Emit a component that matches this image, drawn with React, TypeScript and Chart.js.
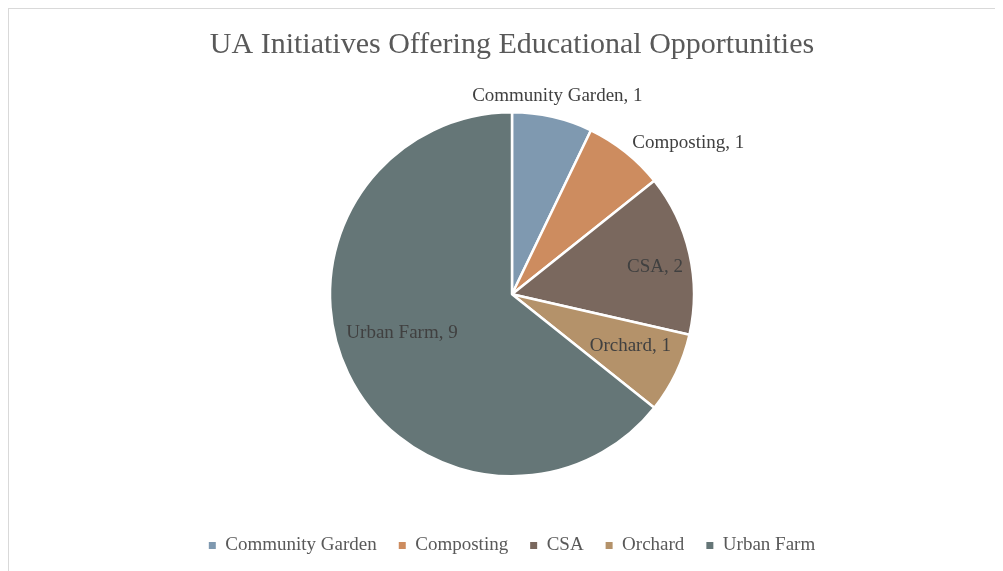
import React, { useEffect, useRef } from "react";
import { Chart, registerables } from "chart.js";

Chart.register(...registerables);

const TITLE = "UA Initiatives Offering Educational Opportunities";
const categories = ["Community Garden", "Composting", "CSA", "Orchard", "Urban Farm"];
const values = [1, 1, 2, 1, 9];
const colors = ["#7f99b0", "#cd8c5f", "#7a685e", "#b4926a", "#657677"];
// label placement: radial factor of the outer radius, angular nudge (deg), and text alignment
const labelRadius = [1.12, 1.06, 0.8, 0.71, 0.64];
const labelAngleNudge = [0, 0, 2, -2, 6.5];
const labelAlign: CanvasTextAlign[] = ["center", "left", "center", "center", "center"];

const FONT = "'Liberation Serif', 'Times New Roman', serif";

const labelPlugin = {
  id: "sliceLabels",
  afterDatasetsDraw(chart: any) {
    const ctx = chart.ctx;
    const meta = chart.getDatasetMeta(0);
    ctx.save();
    ctx.font = `19px ${FONT}`;
    ctx.fillStyle = "#404040";
    ctx.textBaseline = "middle";
    meta.data.forEach((arc: any, i: number) => {
      const p = arc.getProps(["x", "y", "startAngle", "endAngle", "outerRadius"], true);
      const mid = (p.startAngle + p.endAngle) / 2 + (labelAngleNudge[i] * Math.PI) / 180;
      const r = p.outerRadius * labelRadius[i];
      const x = p.x + Math.cos(mid) * r;
      const y = p.y + Math.sin(mid) * r;
      ctx.textAlign = labelAlign[i];
      ctx.fillText(`${categories[i]}, ${values[i]}`, x, y);
    });
    ctx.restore();
  },
};

export default function App() {
  const ref = useRef<HTMLCanvasElement>(null);
  useEffect(() => {
    if (!ref.current) return;
    const chart = new Chart(ref.current, {
      type: "pie",
      data: {
        labels: categories,
        datasets: [
          {
            data: values,
            backgroundColor: colors,
            borderColor: "#ffffff",
            borderWidth: 2.5,
            radius: 182,
          },
        ],
      },
      options: {
        responsive: false,
        animation: false,
        layout: { padding: { top: 0, bottom: 24, left: 0, right: 0 } },
        plugins: {
          tooltip: { enabled: false },
          title: {
            display: true,
            text: TITLE,
            color: "#595959",
            font: { family: FONT, size: 30, weight: "normal" },
            padding: { top: 18, bottom: 11.5 },
          },
          legend: {
            position: "bottom",
            labels: {
              color: "#595959",
              font: { family: FONT, size: 19 },
              boxWidth: 7,
              boxHeight: 7,
              padding: 22,
              generateLabels: (c: any) => {
                const items = Chart.overrides.pie.plugins.legend.labels.generateLabels(c);
                return items.map((it: any) => ({ ...it, lineWidth: 0, strokeStyle: "transparent" }));
              },
            },
          },
        },
      },
      plugins: [labelPlugin],
    });
    return () => chart.destroy();
  }, []);
  return (
    <>
      <style>{"html,body{overflow:hidden;}"}</style>
      <div style={{ border: "1px solid #d9d9d9", width: 1006, height: 580, position: "relative" }}>
        <canvas ref={ref} width={1006} height={580} style={{ display: "block" }} />
      </div>
    </>
  );
}
